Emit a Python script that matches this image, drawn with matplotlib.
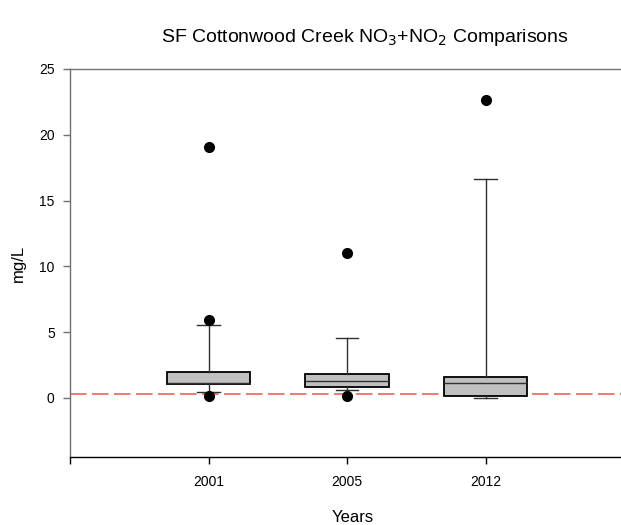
import matplotlib
matplotlib.use("Agg")
import matplotlib.pyplot as plt

plt.rcParams['font.family'] = ['Liberation Sans', 'DejaVu Sans']

years = ["2001", "2005", "2012"]
whislo = [0.41, 0.59, 0.00]
q1 = [1.02, 0.84, 0.13]
med = [1.12, 1.27, 1.10]
q3 = [1.93, 1.78, 1.55]
whishi = [5.54, 4.57, 16.65]
fliers = [[0.13, 5.94, 19.1], [0.13, 11.02], [22.66]]
reference_level = 0.3
y_ticks = [0, 5, 10, 15, 20, 25]

W, H = 621, 525
fig = plt.figure(figsize=(W / 100, H / 100), dpi=100)
left, right, top, bottom = 70, 624, 69, 457
ax = fig.add_axes([left / W, 1 - bottom / H, (right - left) / W, (bottom - top) / H])

stats = []
for i, y in enumerate(years):
    stats.append(dict(label=y, whislo=whislo[i], q1=q1[i], med=med[i], q3=q3[i],
                      whishi=whishi[i], fliers=fliers[i]))

positions = list(range(1, len(years) + 1))
ax.axhline(reference_level, color='#f05050', lw=1.1, dashes=(10.8, 3.6), zorder=1)
ax.bxp(stats, positions=positions, widths=0.6, capwidths=0.16, patch_artist=True,
       boxprops=dict(facecolor='#c0c0c0', edgecolor='black', linewidth=1.3),
       medianprops=dict(color='#303030', linewidth=1.0),
       whiskerprops=dict(color='#303030', linewidth=1.0),
       capprops=dict(color='#303030', linewidth=1.0),
       flierprops=dict(marker='o', markerfacecolor='black', markeredgecolor='black',
                       markersize=7), zorder=2)

ax.set_xlim(0, 4)
ax.set_ylim(-4.5, 25)
ax.set_yticks(y_ticks)
ax.set_xticks([0] + positions)
ax.set_xticklabels([""] + years)

ax.spines['right'].set_visible(False)
ax.spines['top'].set_color('#707070')
ax.spines['left'].set_color('#707070')
ax.spines['bottom'].set_color('black')
for s in ax.spines.values():
    s.set_linewidth(1.0)
ax.tick_params(axis='both', direction='out', length=5, width=1, labelsize=10, pad=6)
ax.tick_params(axis='x', pad=8)
ax.tick_params(axis='y', colors='#707070', labelcolor='black')

fig.text(365 / W, 1 - 37 / H, r"SF Cottonwood Creek NO$_3$+NO$_2$ Comparisons",
         ha='center', va='center', fontsize=14)
fig.text(353 / W, 1 - 517 / H, "Years", ha='center', va='center', fontsize=12)
fig.text(18.5 / W, 1 - 263 / H, "mg/L", ha='center', va='center', fontsize=12, rotation=90)

fig.savefig("out.png", dpi=100)
